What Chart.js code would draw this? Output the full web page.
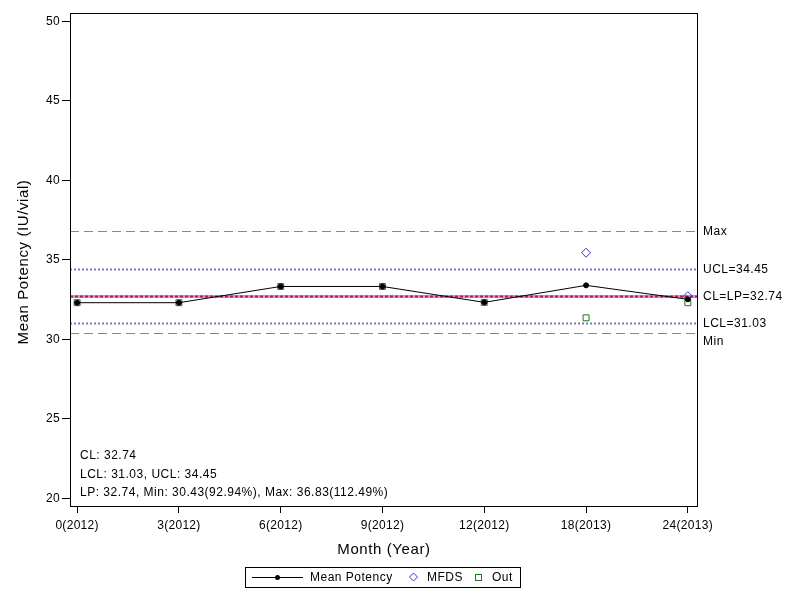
<!DOCTYPE html>
<html>
<head>
<meta charset="utf-8">
<style>
  html, body { margin: 0; padding: 0; background: #fff; }
  #wrap { width: 800px; height: 600px; }
</style>
<script src="https://cdn.jsdelivr.net/npm/chart.js@4.4.1/dist/chart.umd.min.js"></script>
</head>
<body>
<div id="wrap"><canvas id="potencyChart" width="800" height="600"></canvas></div>
<script>
// data
const months = ['0(2012)', '3(2012)', '6(2012)', '9(2012)', '12(2012)', '18(2013)', '24(2013)'];
const meanPotency = [32.31, 32.31, 33.33, 33.33, 32.33, 33.40, 32.52];
const mfds = [null, null, null, null, null, 35.45, 32.72];
const outValues = [32.31, 32.31, 33.33, 33.33, 32.33, 31.36, 32.31];
const yTicks = [20, 25, 30, 35, 40, 45, 50];

// reference lines (value, label at right)
const refNames = ['Max', 'UCL', 'CL', 'LCL', 'Min'];
const refValues = [36.83, 34.45, 32.74, 31.03, 30.43];
const refLabels = ['Max', 'UCL=34.45', 'CL=LP=32.74', 'LCL=31.03', 'Min'];

const infoLines = [
    'CL: 32.74',
    'LCL: 31.03, UCL: 34.45',
    'LP: 32.74, Min: 30.43(92.94%), Max: 36.83(112.49%)'
];

const FONT = '"Liberation Sans", Arial, sans-serif';

function toPoints(values) {
    return values.map(function (v, i) { return { x: i, y: v }; });
}

// draws the limit lines under the data, plus frame, texts and legend
const refLinePlugin = {
    id: 'refLines',
    beforeDraw(chart) {
        chart.ctx.letterSpacing = '0.3px';
    },
    beforeDatasetsDraw(chart) {
        const ctx = chart.ctx;
        const area = chart.chartArea;
        const y = chart.scales.y;
        ctx.save();
        refNames.forEach(function (name, i) {
            const py = Math.round(y.getPixelForValue(refValues[i])) + 0.5;
            ctx.beginPath();
            if (name === 'Max' || name === 'Min') {
                ctx.strokeStyle = '#888888';
                ctx.lineWidth = 1;
                ctx.setLineDash([9, 5]);
                ctx.moveTo(area.left, py);
                ctx.lineTo(area.right, py);
                ctx.stroke();
            } else if (name === 'UCL' || name === 'LCL') {
                ctx.strokeStyle = '#7777cc';
                ctx.lineWidth = 2;
                ctx.setLineDash([2, 2]);
                ctx.moveTo(area.left, py);
                ctx.lineTo(area.right, py);
                ctx.stroke();
            } else {
                // LP solid + CL dotted on top
                ctx.strokeStyle = '#f08cc0';
                ctx.lineWidth = 3;
                ctx.setLineDash([]);
                ctx.moveTo(area.left, py);
                ctx.lineTo(area.right, py);
                ctx.stroke();
                ctx.beginPath();
                ctx.strokeStyle = '#a0206a';
                ctx.lineWidth = 2;
                ctx.setLineDash([3, 2]);
                ctx.moveTo(area.left, py);
                ctx.lineTo(area.right, py);
                ctx.stroke();
            }
        });
        ctx.restore();
    },
    afterDraw(chart) {
        const ctx = chart.ctx;
        const area = chart.chartArea;
        const y = chart.scales.y;
        ctx.save();
        // frame
        ctx.strokeStyle = '#000';
        ctx.lineWidth = 1;
        ctx.setLineDash([]);
        ctx.strokeRect(area.left + 0.5, area.top + 0.5, area.right - area.left, area.bottom - area.top);

        ctx.fillStyle = '#000';
        ctx.letterSpacing = '0.5px';
        ctx.font = '12px ' + FONT;
        ctx.textBaseline = 'middle';
        ctx.textAlign = 'left';
        // labels at the right of the limit lines
        refLabels.forEach(function (label, i) {
            let py = y.getPixelForValue(refValues[i]);
            if (refNames[i] === 'Min') py += 8;
            ctx.fillText(label, area.right + 6, py + 1);
        });

        // info text bottom left
        infoLines.forEach(function (line, i) {
            ctx.fillText(line, area.left + 10, area.bottom - 50 + i * 18.5);
        });

        // axis titles
        ctx.letterSpacing = '0.6px';
        ctx.font = '15px ' + FONT;
        ctx.textAlign = 'center';
        ctx.fillText('Month (Year)', 384, 550);
        ctx.save();
        ctx.translate(24, 262);
        ctx.rotate(-Math.PI / 2);
        ctx.fillText('Mean Potency (IU/vial)', 0, 0);
        ctx.restore();

        // legend box
        ctx.letterSpacing = '0.5px';
        ctx.strokeStyle = '#000';
        ctx.lineWidth = 1;
        ctx.strokeRect(245.5, 567.5, 275, 20);
        ctx.beginPath();
        ctx.moveTo(252, 577.5);
        ctx.lineTo(303, 577.5);
        ctx.stroke();
        ctx.beginPath();
        ctx.arc(277.5, 577.5, 2.5, 0, Math.PI * 2);
        ctx.fill();
        ctx.font = '12px ' + FONT;
        ctx.textAlign = 'left';
        ctx.fillText('Mean Potency', 310, 578);
        ctx.strokeStyle = '#3333cc';
        ctx.beginPath();
        ctx.moveTo(413.5, 573);
        ctx.lineTo(417.5, 577);
        ctx.lineTo(413.5, 581);
        ctx.lineTo(409.5, 577);
        ctx.closePath();
        ctx.stroke();
        ctx.fillText('MFDS', 427, 578);
        ctx.strokeStyle = '#1a7a1a';
        ctx.strokeRect(475.5, 574.5, 6, 6);
        ctx.fillText('Out', 492, 578);
        ctx.restore();
    }
};

const ctx = document.getElementById('potencyChart').getContext('2d');
new Chart(ctx, {
    type: 'line',
    data: {
        datasets: [{
            label: 'Mean Potency',
            data: toPoints(meanPotency),
            borderColor: '#000',
            backgroundColor: '#000',
            borderWidth: 1,
            pointRadius: 2.5,
            pointStyle: 'circle',
            tension: 0,
            order: 1
        }, {
            label: 'MFDS',
            data: toPoints(mfds),
            showLine: false,
            borderColor: '#3333cc',
            backgroundColor: 'rgba(0,0,0,0)',
            borderWidth: 1,
            pointStyle: 'rectRot',
            pointRadius: 4.5,
            order: 2
        }, {
            label: 'Out',
            data: toPoints(outValues),
            showLine: false,
            borderColor: '#1a7a1a',
            backgroundColor: 'rgba(0,0,0,0)',
            borderWidth: 1,
            pointStyle: 'rect',
            pointRadius: 4.2,
            order: 3
        }]
    },
    options: {
        responsive: false,
        animation: false,
        events: [],
        layout: { padding: { left: 0, right: 103, top: 13, bottom: 0 } },
        plugins: {
            legend: { display: false },
            tooltip: { enabled: false },
            title: { display: false }
        },
        scales: {
            x: {
                type: 'linear',
                min: -0.07,
                max: 6.09,
                afterBuildTicks: function (scale) {
                    scale.ticks = months.map(function (m, i) { return { value: i }; });
                },
                afterFit: function (scale) { scale.height = 94; },
                ticks: {
                    callback: function (value) { return months[value]; },
                    color: '#000',
                    font: { family: FONT, size: 12 },
                    padding: 5,
                    maxRotation: 0,
                    autoSkip: false
                },
                grid: { drawOnChartArea: false, drawTicks: true, tickLength: 7, color: '#000' },
                border: { display: false }
            },
            y: {
                type: 'linear',
                min: 19.53,
                max: 50.52,
                afterBuildTicks: function (scale) {
                    scale.ticks = yTicks.map(function (v) { return { value: v }; });
                },
                afterFit: function (scale) { scale.width = 70; },
                ticks: {
                    color: '#000',
                    font: { family: FONT, size: 12 },
                    padding: 2
                },
                grid: { drawOnChartArea: false, drawTicks: true, tickLength: 8, color: '#000' },
                border: { display: false }
            }
        }
    },
    plugins: [refLinePlugin]
});
</script>
</body>
</html>
